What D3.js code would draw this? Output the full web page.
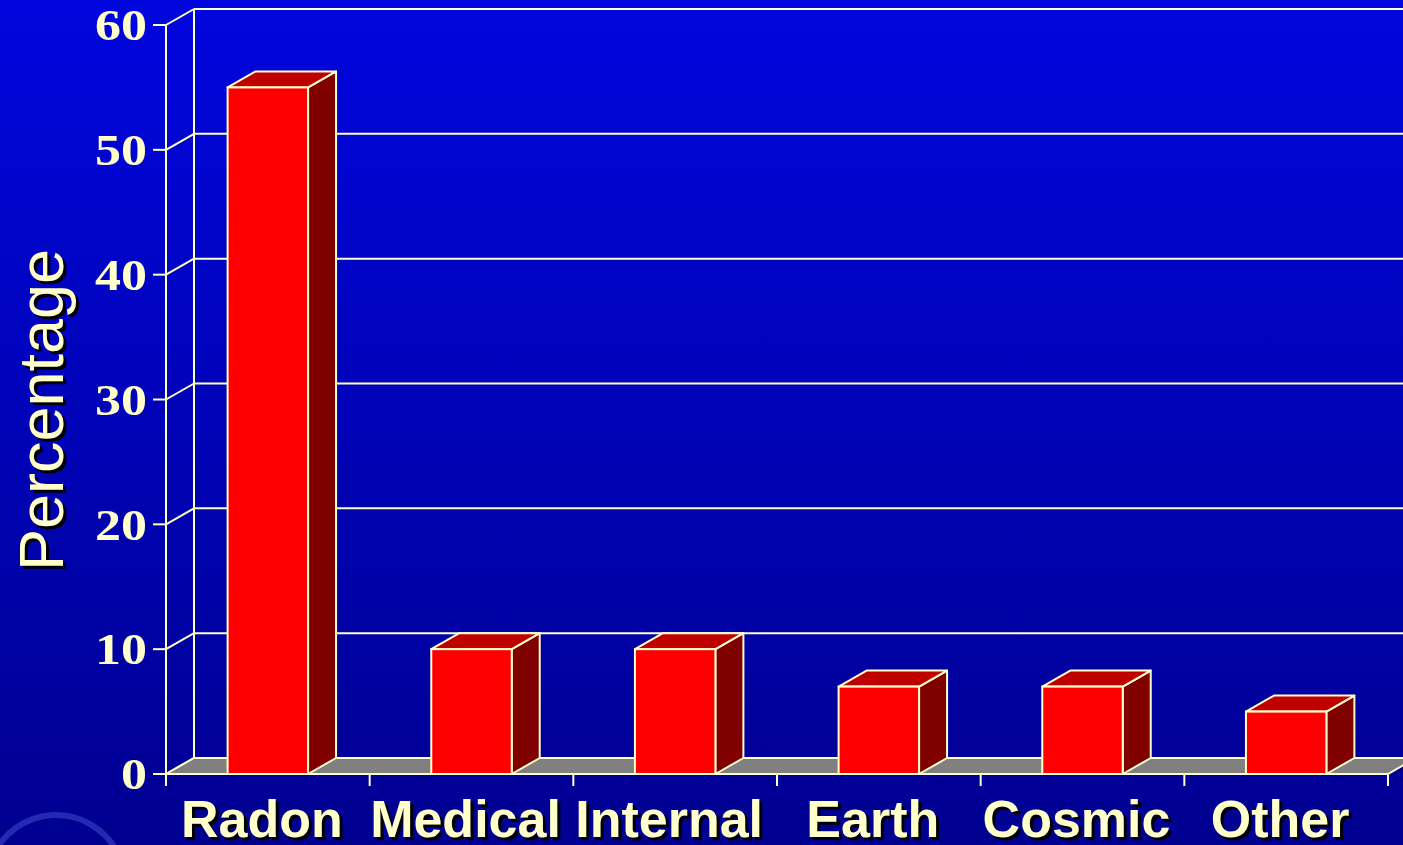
<!DOCTYPE html>
<html>
<head>
<meta charset="utf-8">
<script src="https://cdn.jsdelivr.net/npm/d3@7"></script>
<style>
  html, body { margin: 0; padding: 0; background: #000090; }
  svg { display: block; }
</style>
</head>
<body>
<div id="chart"></div>
<script>
// data
var categories = ["Radon", "Medical", "Internal", "Earth", "Cosmic", "Other"];
var values = [55, 10, 10, 7, 7, 5];
var yTicks = [0, 10, 20, 30, 40, 50, 60];
var yTitle = "Percentage";

var svgWidth = 1403;
var svgHeight = 845;

// depth of the 3d box
var dx = 28, dy = -16;
var cream = "#FFFFCC";

var svg = d3.select("#chart")
  .append("svg")
  .attr("width", svgWidth)
  .attr("height", svgHeight);

var defs = svg.append("defs");
var grad = defs.append("linearGradient")
  .attr("id", "bg")
  .attr("x1", 0).attr("y1", 0).attr("x2", 0).attr("y2", 1);
grad.append("stop").attr("offset", "0%").attr("stop-color", "#0006DE");
grad.append("stop").attr("offset", "100%").attr("stop-color", "#000090");

svg.append("rect")
  .attr("width", svgWidth)
  .attr("height", svgHeight)
  .attr("fill", "url(#bg)");

// faint logo in the corner
svg.append("path")
  .attr("d", d3.arc()({innerRadius: 66, outerRadius: 72, startAngle: -1.2, endAngle: 1.1}))
  .attr("transform", "translate(56,884)")
  .attr("fill", "#5a66e0")
  .attr("opacity", 0.4);

// scales
var xScale = d3.scaleBand()
  .domain(categories)
  .range([166, 1388]);

var yScale = d3.scaleLinear()
  .domain([0, 60])
  .range([774, 25]);

var barW = xScale.bandwidth() * 0.395;
var x0 = xScale.range()[0], x1 = xScale.range()[1];

var chartGroup = svg.append("g");

// back wall grid lines
chartGroup.selectAll(".grid")
  .data(yTicks)
  .enter()
  .append("line")
  .attr("x1", x0 + dx)
  .attr("x2", svgWidth + 40)
  .attr("y1", d => yScale(d) + dy)
  .attr("y2", d => yScale(d) + dy)
  .attr("stroke", cream)
  .attr("stroke-width", 2);

// side wall diagonals
chartGroup.selectAll(".diag")
  .data(yTicks)
  .enter()
  .append("line")
  .attr("x1", x0)
  .attr("x2", x0 + dx)
  .attr("y1", d => yScale(d))
  .attr("y2", d => yScale(d) + dy)
  .attr("stroke", cream)
  .attr("stroke-width", 2);

// back wall left edge
chartGroup.append("line")
  .attr("x1", x0 + dx).attr("x2", x0 + dx)
  .attr("y1", yScale(0) + dy).attr("y2", yScale(60) + dy)
  .attr("stroke", cream)
  .attr("stroke-width", 2);

// floor
var fy = yScale(0);
chartGroup.append("polygon")
  .attr("points", [[x0, fy], [x1, fy], [x1 + dx, fy + dy], [x0 + dx, fy + dy]].join(" "))
  .attr("fill", "#808080")
  .attr("stroke", cream)
  .attr("stroke-width", 2);

// front axis line
chartGroup.append("line")
  .attr("x1", x0).attr("x2", x0)
  .attr("y1", yScale(60)).attr("y2", fy + 12)
  .attr("stroke", cream)
  .attr("stroke-width", 2);

// y ticks and labels
chartGroup.selectAll(".ytick")
  .data(yTicks)
  .enter()
  .append("line")
  .attr("x1", x0 - 13).attr("x2", x0)
  .attr("y1", d => yScale(d)).attr("y2", d => yScale(d))
  .attr("stroke", cream)
  .attr("stroke-width", 2);

chartGroup.selectAll(".ylabel")
  .data(yTicks)
  .enter()
  .append("text")
  .attr("x", x0 - 19)
  .attr("y", d => yScale(d))
  .attr("dy", "0.34em")
  .attr("text-anchor", "end")
  .attr("textLength", d => String(d).length * 26)
  .attr("lengthAdjust", "spacingAndGlyphs")
  .attr("font-family", "Liberation Serif, Times New Roman, serif")
  .attr("font-weight", "bold")
  .attr("font-size", 45)
  .attr("fill", cream)
  .text(d => d);

// x ticks at band edges
var xEdges = categories.map(c => xScale(c)).concat([x1]);
chartGroup.selectAll(".xtick")
  .data(xEdges.slice(1))
  .enter()
  .append("line")
  .attr("x1", d => d).attr("x2", d => d)
  .attr("y1", fy).attr("y2", fy + 12)
  .attr("stroke", cream)
  .attr("stroke-width", 2);

// bars
var bars = chartGroup.selectAll(".bar")
  .data(categories.map((c, i) => ({cat: c, val: values[i]})))
  .enter()
  .append("g");

function barLeft(d) { return xScale(d.cat) + xScale.bandwidth() / 2 - barW / 2; }

// side face
bars.append("polygon")
  .attr("points", d => {
    var l = barLeft(d) + barW, t = yScale(d.val);
    return [[l, t], [l + dx, t + dy], [l + dx, fy + dy], [l, fy]].join(" ");
  })
  .attr("fill", "#800000")
  .attr("stroke", cream)
  .attr("stroke-width", 2)
  .attr("stroke-linejoin", "round");

// top face
bars.append("polygon")
  .attr("points", d => {
    var l = barLeft(d), t = yScale(d.val);
    return [[l, t], [l + dx, t + dy], [l + barW + dx, t + dy], [l + barW, t]].join(" ");
  })
  .attr("fill", "#BE0000")
  .attr("stroke", cream)
  .attr("stroke-width", 2)
  .attr("stroke-linejoin", "round");

// front face
bars.append("rect")
  .attr("x", d => barLeft(d))
  .attr("y", d => yScale(d.val))
  .attr("width", barW)
  .attr("height", d => fy - yScale(d.val))
  .attr("fill", "#FF0000")
  .attr("stroke", cream)
  .attr("stroke-width", 2);

// category labels with drop shadow
[["#000000", 3], [cream, 0]].forEach(function(s) {
  chartGroup.selectAll(".xl" + s[1])
    .data(categories)
    .enter()
    .append("text")
    .attr("x", d => xScale(d) + xScale.bandwidth() / 2 - 6 + s[1])
    .attr("y", 837 + s[1])
    .attr("text-anchor", "middle")
    .attr("font-family", "Liberation Sans, Arial, sans-serif")
    .attr("font-weight", "bold")
    .attr("font-size", 52)
    .attr("fill", s[0])
    .text(d => d);

  svg.append("text")
    .attr("transform", `translate(${63 + s[1]},${410 + s[1]}) rotate(-90)`)
    .attr("text-anchor", "middle")
    .attr("font-family", "Liberation Sans, Arial, sans-serif")
    .attr("font-size", 63)
    .attr("fill", s[0])
    .text(yTitle);
});
</script>
</body>
</html>
